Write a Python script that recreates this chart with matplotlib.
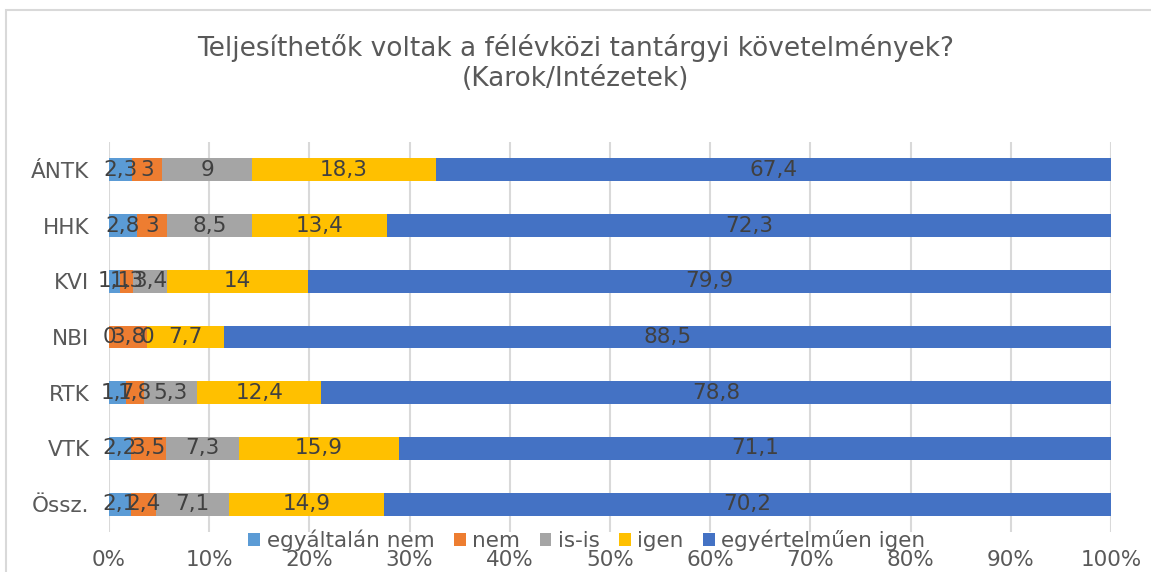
import matplotlib.pyplot as plt
import numpy as np
from matplotlib.patches import Rectangle

# categories (top to bottom) and answer shares
categories = ["ÁNTK", "HHK", "KVI", "NBI", "RTK", "VTK", "Össz."]
series_names = ["egyáltalán nem", "nem", "is-is", "igen", "egyértelműen igen"]
egyaltalan_nem = [2.3, 2.8, 1.1, 0, 1.7, 2.2, 2.1]
nem = [3, 3, 1.3, 3.8, 1.8, 3.5, 2.4]
is_is = [9, 8.5, 3.4, 0, 5.3, 7.3, 7.1]
igen = [18.3, 13.4, 14, 7.7, 12.4, 15.9, 14.9]
egyertelmuen_igen = [67.4, 72.3, 79.9, 88.5, 78.8, 71.1, 70.2]
x_ticks = [0, 10, 20, 30, 40, 50, 60, 70, 80, 90, 100]

colors = ["#5B9BD5", "#ED7D31", "#A5A5A5", "#FFC000", "#4472C4"]
text_gray = "#595959"
label_gray = "#404040"

data = np.array([egyaltalan_nem, nem, is_is, igen, egyertelmuen_igen], dtype=float)
# 100% stacked: normalise each row
shares = data / data.sum(axis=0) * 100


def fmt(v):
    if float(v).is_integer():
        return str(int(v))
    return f"{v:.1f}".replace(".", ",")


fig = plt.figure(figsize=(11.51, 5.72), dpi=100)
ax = fig.add_axes([109 / 1151, 1 - 532 / 572, 1002 / 1151, 390 / 572])

y = np.arange(len(categories))
left = np.zeros(len(categories))
handles = []
for i in range(len(series_names)):
    bars = ax.barh(y, shares[i], left=left, height=0.41, color=colors[i],
                   label=series_names[i], zorder=3)
    handles.append(bars)
    for j in range(len(categories)):
        ax.text(left[j] + shares[i][j] / 2, y[j], fmt(data[i][j]),
                ha="center", va="center", fontsize=15.5, color=label_gray, zorder=4)
    left += shares[i]

ax.set_xlim(0, 100)
ax.set_ylim(len(categories) - 0.5, -0.5)
ax.set_yticks(y)
ax.set_yticklabels(categories, fontsize=15.5, color=text_gray)
ax.set_xticks(x_ticks)
ax.set_xticklabels([f"{t}%" for t in x_ticks], fontsize=15.5, color=text_gray)
ax.tick_params(axis="both", length=0)
ax.tick_params(axis="x", pad=13)
ax.tick_params(axis="y", pad=14)
ax.grid(axis="x", color="#D9D9D9", linewidth=1.5, zorder=0)
for s in ax.spines.values():
    s.set_visible(False)

fig.text(0.5, 1 - 63 / 572,
         "Teljesíthetők voltak a félévközi tantárgyi követelmények?\n(Karok/Intézetek)",
         ha="center", va="center", fontsize=19, color=text_gray, linespacing=1.25)

fig.legend(handles=handles, loc="center", bbox_to_anchor=(587 / 1151, 1 - 540 / 572),
           ncol=5, frameon=False, fontsize=15.5, labelcolor=text_gray,
           handlelength=0.55, handleheight=0.55, handletextpad=0.3, columnspacing=0.9)

fig.patches.append(Rectangle((6 / 1151, -0.05), 1.1, 1.05 - 10 / 572,
                             transform=fig.transFigure, fill=False,
                             edgecolor="#D9D9D9", linewidth=1.5))

fig.savefig("out.png", dpi=100)
